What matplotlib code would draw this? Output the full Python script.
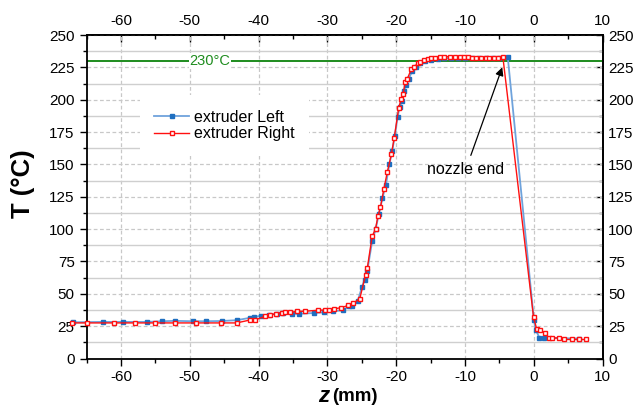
import matplotlib.pyplot as plt
from matplotlib.ticker import MultipleLocator

plt.rcParams['font.family'] = ['Liberation Sans', 'DejaVu Sans']
plt.rcParams['axes.unicode_minus'] = False

# extruder Left (blue)
z_left = [-67.0, -62.6, -59.7, -56.2, -54.0, -52.2, -49.6, -47.7, -45.3, -43.2,
          -41.3, -40.7, -39.6, -38.5, -37.3, -36.5, -35.2, -34.1, -31.9, -30.5,
          -29.2, -27.8, -26.8, -26.4, -25.6, -25.0, -24.6, -24.2, -23.5, -23.0,
          -22.5, -22.0, -21.5, -21.0, -20.6, -20.2, -19.8, -19.5, -19.2, -18.9,
          -18.6, -18.2, -17.7, -17.2, -16.5, -15.8, -15.0, -14.0, -13.0, -12.0,
          -11.0, -10.0, -9.0, -8.0, -7.0, -6.0, -5.0, -3.8,
          0.0, 0.25, 0.8, 1.5, 6.6]
T_left = [28.0, 28.3, 28.3, 28.3, 28.8, 29.1, 28.8, 28.8, 29.0, 29.6,
          31.4, 31.9, 33.2, 34.0, 34.7, 35.2, 34.5, 34.5, 35.2, 35.7,
          36.5, 37.3, 40.4, 40.9, 44.2, 55.0, 61.0, 68.0, 90.5, 100.0,
          112.0, 124.0, 134.3, 150.0, 160.0, 172.0, 187.0, 194.0, 199.0, 207.0,
          211.0, 216.0, 222.0, 225.0, 228.0, 230.0, 231.0, 231.5, 232.0, 232.0,
          232.0, 232.0, 232.0, 232.0, 232.0, 232.0, 232.5, 233.0,
          30.0, 22.4, 16.0, 16.0, 15.4]

# extruder Right (red)
z_right = [-67.1, -65.0, -61.0, -58.0, -55.0, -52.1, -49.1, -45.4, -43.2, -41.2,
           -40.5, -39.0, -38.3, -37.4, -36.6, -36.1, -35.4, -34.4, -33.3, -31.4,
           -30.4, -29.8, -29.1, -28.0, -27.0, -26.3, -25.3, -24.45, -24.2, -23.5,
           -23.0, -22.65, -22.3, -21.8, -21.3, -20.7, -20.3, -19.65, -19.3, -19.0,
           -18.7, -18.4, -17.8, -17.4, -16.8, -16.5, -15.9, -15.4, -14.9, -14.4,
           -13.7, -13.0, -12.2, -11.5, -10.8, -10.2, -9.6, -9.0, -8.4, -7.7,
           -7.0, -6.5, -5.8, -5.2, -4.5,
           -0.05, 0.39, 0.87, 1.6, 2.2, 2.7, 3.6, 4.4, 5.5, 6.6, 7.6]
T_right = [27.5, 27.5, 27.5, 27.5, 27.5, 27.5, 27.5, 27.5, 27.5, 29.8,
           29.8, 32.7, 33.4, 34.7, 35.2, 35.7, 35.7, 36.5, 36.5, 37.3,
           37.5, 37.5, 38.3, 39.3, 41.0, 42.7, 46.1, 64.8, 70.0, 94.4,
           100.3, 110.3, 116.7, 130.9, 144.0, 158.0, 170.3, 193.4, 200.4, 204.5,
           213.5, 216.0, 223.8, 225.5, 228.2, 229.4, 230.7, 231.2, 232.0, 232.5,
           233.3, 233.3, 233.3, 233.3, 233.3, 233.0, 232.7, 232.5, 232.5, 232.5,
           232.5, 232.5, 232.5, 232.5, 232.7,
           31.9, 23.1, 21.9, 19.8, 15.9, 15.9, 15.9, 14.7, 14.7, 14.7, 14.7]

x_ticks = [-60, -50, -40, -30, -20, -10, 0, 10]
y_ticks = [0, 25, 50, 75, 100, 125, 150, 175, 200, 225, 250]

setpoint = 230
nozzle_end = (-4.6, 225)
nozzle_text = (-9.9, 146)

fig = plt.figure(figsize=(6.37, 4.08), dpi=100)
ax = fig.add_axes([0.1358, 0.1213, 0.8104, 0.7929])

ax.set_xlim(-65, 10)
ax.set_ylim(0, 250)

ax.set_xticks(x_ticks)
ax.set_yticks(y_ticks)
ax.xaxis.set_minor_locator(MultipleLocator(5))
ax.yaxis.set_minor_locator(MultipleLocator(12.5))
ax.grid(which='major', color='#c8c8c8', linestyle=(0, (3, 2)), linewidth=0.9)
ax.grid(which='minor', axis='y', color='#cfcfcf', linestyle='-', linewidth=1.0)
ax.set_axisbelow(True)

ax.axhline(setpoint, color='#1e8c1e', linewidth=1.4, zorder=2)
ax.text(-47.1, setpoint, '230°C', color='#1e8c1e', fontsize=10.5,
        ha='center', va='center', zorder=3,
        bbox=dict(facecolor='white', edgecolor='none', pad=0.5))

ax.plot(z_left, T_left, color='#6fa3dc', linewidth=1.3, marker='s',
        markersize=3.5, markerfacecolor='#1f6fc0', markeredgecolor='#1f6fc0',
        label='extruder Left', clip_on=False, zorder=4)
ax.plot(z_right, T_right, color='#ff1010', linewidth=1.0, marker='s',
        markersize=3.5, markerfacecolor='white', markeredgecolor='#ff1010',
        markeredgewidth=1.0, label='extruder Right', clip_on=False, zorder=5)

ax.annotate('nozzle end', xy=nozzle_end, xytext=nozzle_text, fontsize=11.5,
            ha='center', va='center',
            arrowprops=dict(arrowstyle='-|>', color='black', lw=0.9,
                            mutation_scale=12, shrinkA=3, shrinkB=0))

leg = ax.legend(loc='center', bbox_to_anchor=(0.267, 0.72), fontsize=11.5,
                frameon=True, fancybox=False, framealpha=1, edgecolor='none',
                facecolor='white', handlelength=2.2, handletextpad=0.3,
                borderpad=0.9, labelspacing=0.1)
leg.set_zorder(6)

# bottom/left ticks outward
ax.tick_params(which='both', labelsize=11, width=1.0, direction='out')
ax.tick_params(which='major', length=5)
ax.tick_params(which='minor', length=3)

# top/right ticks inward, with labels
top = ax.secondary_xaxis('top')
top.set_xticks(x_ticks)
top.xaxis.set_minor_locator(MultipleLocator(5))
top.tick_params(which='both', direction='in', labelsize=11, width=1.0, pad=5)
top.tick_params(which='major', length=5)
top.tick_params(which='minor', length=3)
right = ax.secondary_yaxis('right')
right.set_yticks(y_ticks)
right.yaxis.set_minor_locator(MultipleLocator(12.5))
right.tick_params(which='both', direction='in', labelsize=11, width=1.0, pad=4)
right.tick_params(which='major', length=5)
right.tick_params(which='minor', length=3)

for sp in ax.spines.values():
    sp.set_linewidth(1.3)
top.spines['top'].set_linewidth(1.3)
right.spines['right'].set_linewidth(1.3)

fig.text(0.036, 0.55, 'T (°C)', rotation=90, fontsize=18.5, fontweight='bold',
         ha='center', va='center')
fig.text(0.517, 0.028, 'z', fontsize=16, fontweight='bold', style='italic',
         ha='right', va='center')
fig.text(0.522, 0.028, '(mm)', fontsize=13.5, fontweight='bold',
         ha='left', va='center')

fig.savefig('out.png', dpi=100)
